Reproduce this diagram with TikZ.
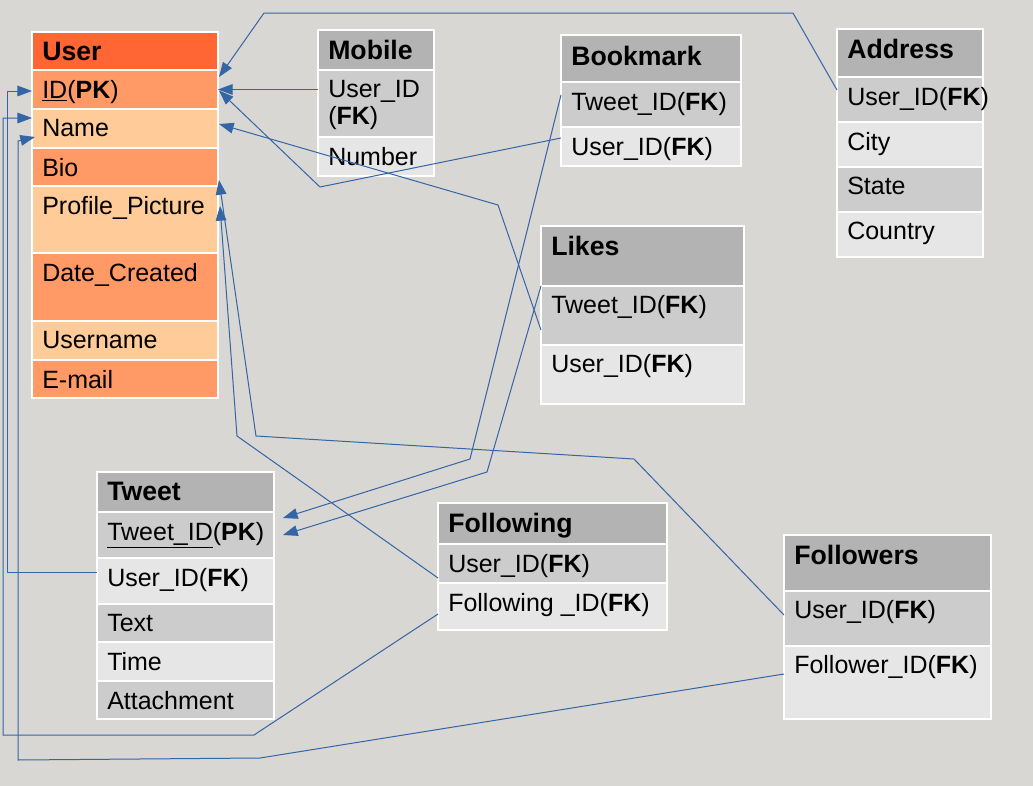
\documentclass[tikz,border=0pt]{standalone}
\usepackage{fontspec}
\setmainfont{Liberation Sans}
\usepackage{xcolor}
\definecolor{bgstone}{HTML}{D9D7D4}
\definecolor{userhead}{HTML}{FF6633}
\definecolor{userdark}{HTML}{FF9966}
\definecolor{userlight}{HTML}{FFCC99}
\definecolor{tblhead}{HTML}{B3B3B3}
\definecolor{tbldark}{HTML}{CCCCCC}
\definecolor{tbllight}{HTML}{E6E6E6}
\definecolor{fkblue}{HTML}{3465A4}
\usepackage{tikz}
\usetikzlibrary{arrows.meta, positioning, calc}
\newlength{\px}
\setlength{\px}{0.75pt}
\tikzset{
  cell/.style  ={rectangle, draw=white, line width=1.5\px, inner sep=0pt, outer sep=0pt, anchor=north west},
  uhead/.style ={cell, fill=userhead},
  udark/.style ={cell, fill=userdark},
  ulight/.style={cell, fill=userlight},
  thead/.style ={cell, fill=tblhead},
  tdark/.style ={cell, fill=tbldark},
  tlight/.style={cell, fill=tbllight},
  htxt/.style  ={anchor=north west, inner sep=0pt, font=\fontsize{20}{24}\selectfont\bfseries},
  ctxt/.style  ={anchor=north west, inner sep=0pt, align=left, font=\fontsize{18.75}{20.25}\selectfont},
  fkarr/.style ={-{Triangle[length=11pt, width=8pt]}, line width=\px, color=fkblue},
}

\begin{document}
\begin{tikzpicture}[x=0.75pt, y=-0.75pt]
  \useasboundingbox (0,0) rectangle (1033,786);
  \fill[bgstone] (0,0) rectangle (1033,786);

  % User
  \node[uhead, minimum width=186\px, minimum height=38\px] (u0) at (32,32) {};
  \node[udark, minimum width=186\px, minimum height=39\px, below=0pt of u0] (u1) {};
  \node[ulight, minimum width=186\px, minimum height=39\px, below=0pt of u1] (u2) {};
  \node[udark, minimum width=186\px, minimum height=38\px, below=0pt of u2] (u3) {};
  \node[ulight, minimum width=186\px, minimum height=67\px, below=0pt of u3] (u4) {};
  \node[udark, minimum width=186\px, minimum height=68\px, below=0pt of u4] (u5) {};
  \node[ulight, minimum width=186\px, minimum height=39\px, below=0pt of u5] (u6) {};
  \node[udark, minimum width=186\px, minimum height=38\px, below=0pt of u6] (u7) {};
  \node[htxt] (u0t) at ([shift={(10,10)}]u0.north west) {User};
  \node[ctxt] (u1t) at ([shift={(10,10)}]u1.north west) {\underline{ID}(\textbf{PK})};
  \node[ctxt] (u2t) at ([shift={(10,10)}]u2.north west) {Name};
  \node[ctxt] (u3t) at ([shift={(10,10)}]u3.north west) {Bio};
  \node[ctxt] (u4t) at ([shift={(10,10)}]u4.north west) {Profile\_Picture};
  \node[ctxt] (u5t) at ([shift={(10,10)}]u5.north west) {Date\_Created};
  \node[ctxt] (u6t) at ([shift={(10,10)}]u6.north west) {Username};
  \node[ctxt] (u7t) at ([shift={(10,10)}]u7.north west) {E-mail};

  % Mobile
  \node[thead, minimum width=116\px, minimum height=40\px] (m0) at (318,30) {};
  \node[tdark, minimum width=116\px, minimum height=67\px, below=0pt of m0] (m1) {};
  \node[tlight, minimum width=116\px, minimum height=39\px, below=0pt of m1] (m2) {};
  \node[htxt] (m0t) at ([shift={(10,10)}]m0.north west) {Mobile};
  \node[ctxt] (m1t) at ([shift={(10,10)}]m1.north west) {User\_ID\\(\textbf{FK})};
  \node[ctxt] (m2t) at ([shift={(10,10)}]m2.north west) {Number};

  % Bookmark
  \node[thead, minimum width=180\px, minimum height=47\px] (b0) at (561,35) {};
  \node[tdark, minimum width=180\px, minimum height=45\px, below=0pt of b0] (b1) {};
  \node[tlight, minimum width=180\px, minimum height=39\px, below=0pt of b1] (b2) {};
  \node[htxt] (b0t) at ([shift={(10,11)}]b0.north west) {Bookmark};
  \node[ctxt] (b1t) at ([shift={(10,10)}]b1.north west) {Tweet\_ID(\textbf{FK})};
  \node[ctxt] (b2t) at ([shift={(10,10)}]b2.north west) {User\_ID(\textbf{FK})};

  % Address
  \node[thead, minimum width=146\px, minimum height=48\px] (a0) at (837,29) {};
  \node[tdark, minimum width=146\px, minimum height=45\px, below=0pt of a0] (a1) {};
  \node[tlight, minimum width=146\px, minimum height=45\px, below=0pt of a1] (a2) {};
  \node[tdark, minimum width=146\px, minimum height=45\px, below=0pt of a2] (a3) {};
  \node[tlight, minimum width=146\px, minimum height=45\px, below=0pt of a3] (a4) {};
  \node[htxt] (a0t) at ([shift={(10,10)}]a0.north west) {Address};
  \node[ctxt] (a1t) at ([shift={(10,10)}]a1.north west) {User\_ID(\textbf{FK})};
  \node[ctxt] (a2t) at ([shift={(10,10)}]a2.north west) {City};
  \node[ctxt] (a3t) at ([shift={(10,10)}]a3.north west) {State};
  \node[ctxt] (a4t) at ([shift={(10,10)}]a4.north west) {Country};

  % Likes
  \node[thead, minimum width=203\px, minimum height=60\px] (l0) at (541,226) {};
  \node[tdark, minimum width=203\px, minimum height=59\px, below=0pt of l0] (l1) {};
  \node[tlight, minimum width=203\px, minimum height=59\px, below=0pt of l1] (l2) {};
  \node[htxt] (l0t) at ([shift={(10,10)}]l0.north west) {Likes};
  \node[ctxt] (l1t) at ([shift={(10,9)}]l1.north west) {Tweet\_ID(\textbf{FK})};
  \node[ctxt] (l2t) at ([shift={(10,9)}]l2.north west) {User\_ID(\textbf{FK})};

  % Tweet
  \node[thead, minimum width=177\px, minimum height=40\px] (t0) at (97,472) {};
  \node[tdark, minimum width=177\px, minimum height=46\px, below=0pt of t0] (t1) {};
  \node[tlight, minimum width=177\px, minimum height=46\px, below=0pt of t1] (t2) {};
  \node[tdark, minimum width=177\px, minimum height=38\px, below=0pt of t2] (t3) {};
  \node[tlight, minimum width=177\px, minimum height=39\px, below=0pt of t3] (t4) {};
  \node[tdark, minimum width=177\px, minimum height=38\px, below=0pt of t4] (t5) {};
  \node[htxt] (t0t) at ([shift={(10,10)}]t0.north west) {Tweet};
  \node[ctxt] (t1t) at ([shift={(10,10)}]t1.north west) {\underline{Tweet\_ID}(\textbf{PK})};
  \node[ctxt] (t2t) at ([shift={(10,10)}]t2.north west) {User\_ID(\textbf{FK})};
  \node[ctxt] (t3t) at ([shift={(10,10)}]t3.north west) {Text};
  \node[ctxt] (t4t) at ([shift={(10,10)}]t4.north west) {Time};
  \node[ctxt] (t5t) at ([shift={(10,10)}]t5.north west) {Attachment};

  % Following
  \node[thead, minimum width=229\px, minimum height=41\px] (g0) at (438,503) {};
  \node[tdark, minimum width=229\px, minimum height=39\px, below=0pt of g0] (g1) {};
  \node[tlight, minimum width=229\px, minimum height=47\px, below=0pt of g1] (g2) {};
  \node[htxt] (g0t) at ([shift={(10,10)}]g0.north west) {Following};
  \node[ctxt] (g1t) at ([shift={(10,10)}]g1.north west) {User\_ID(\textbf{FK})};
  \node[ctxt] (g2t) at ([shift={(10,10)}]g2.north west) {Following \_ID(\textbf{FK})};

  % Followers
  \node[thead, minimum width=207\px, minimum height=56\px] (f0) at (784,535) {};
  \node[tdark, minimum width=207\px, minimum height=55\px, below=0pt of f0] (f1) {};
  \node[tlight, minimum width=207\px, minimum height=73\px, below=0pt of f1] (f2) {};
  \node[htxt] (f0t) at ([shift={(10,10)}]f0.north west) {Followers};
  \node[ctxt] (f1t) at ([shift={(10,9)}]f1.north west) {User\_ID(\textbf{FK})};
  \node[ctxt] (f2t) at ([shift={(10,9)}]f2.north west) {Follower\_ID(\textbf{FK})};

  % foreign keys
  \draw[fkarr] ($(a1.north west)+(0,13)$) -- (793,13) -- (264,13) -- ($(u1.north east)+(1,7)$);
  \draw[fkarr] (m1.west |- u1.east) -- (u1.east);
  \draw[fkarr] ($(b2.north west)+(0,11)$) -- (320,187) -- ($(u1.east)+(1,1)$);
  \draw[fkarr] ($(l1.north west)+(0,44)$) -- (498,205) -- ($(u2.north east)+(1,15)$);
  \draw[fkarr] ($(b1.north west)+(0,13)$) -- (470,459) -- ($(t1.north east)+(9,6)$);
  \draw[fkarr] (l1.north west) -- (487,472) -- ($(t1.north east)+(9,23)$);
  \draw[fkarr] ($(f1.north west)+(0,24)$) -- (634,459) -- (256,436) -- ($(u3.south east)+(1,-6)$);
  \draw[fkarr] ($(g1.north west)+(0,34)$) -- (237,436) -- ($(u4.north east)+(2,20)$);
  \draw[fkarr] ($(t2.north west)+(0,14)$) -- (7,572) -- (7,91) -- ($(u1.west)+(0,1.5)$);
  \draw[fkarr] ($(g2.north west)+(0,31)$) -- (254,735) -- (3,735) -- (3,118) -- ($(u2.north west)+(0,9)$);
  \draw[fkarr] ($(f2.north west)+(0,28)$) -- (260,758) -- (18,760) -- (18,141) -- ($(u2.north west)+(3,28)$);
\end{tikzpicture}
\end{document}
